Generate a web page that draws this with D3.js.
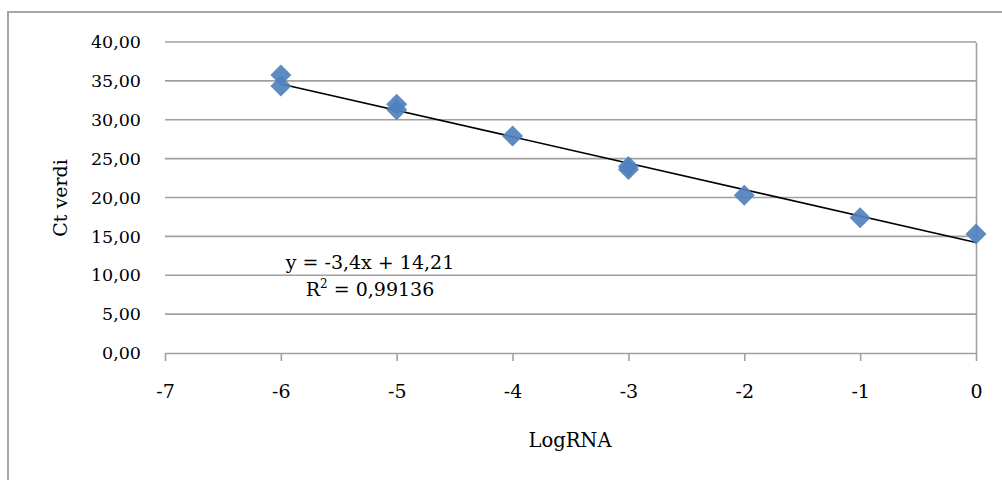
<!DOCTYPE html>
<html>
<head>
<meta charset="utf-8">
<script src="https://cdn.jsdelivr.net/npm/d3@7"></script>
<style>
  body { margin: 0; background: #fff; }
  text { font-family: "DejaVu Serif", serif; fill: #000; }
</style>
</head>
<body>
<svg id="chart" width="1002" height="480"></svg>
<script>
// data
var logRNA = [-6, -6, -5, -5, -4, -3, -3, -2, -1, 0];
var ctValues = [35.75, 34.35, 32.0, 31.3, 27.9, 24.0, 23.6, 20.3, 17.4, 15.3];
var xTicks = [-7, -6, -5, -4, -3, -2, -1, 0];
var yTicks = [0, 5, 10, 15, 20, 25, 30, 35, 40];
var slope = -3.4, intercept = 14.21;
var eqLabel = "y = -3,4x + 14,21";
var r2Label = "0,99136";

var svg = d3.select("#chart");

// outer chart border (runs off the right/bottom of the picture)
svg.append("rect")
  .attr("x", 8).attr("y", 12)
  .attr("width", 1100).attr("height", 600)
  .attr("fill", "none")
  .attr("stroke", "#a6a6a6")
  .attr("stroke-width", 2);

var x = d3.scaleLinear().domain([-7, 0]).range([165, 976]);
var y = d3.scaleLinear().domain([0, 40]).range([353, 42]);

// horizontal gridlines
svg.append("g").selectAll("line")
  .data(yTicks.filter(function(d) { return d > 0; }))
  .enter().append("line")
  .attr("x1", x(-7)).attr("x2", x(0))
  .attr("y1", function(d) { return y(d); })
  .attr("y2", function(d) { return y(d); })
  .attr("stroke", "#a0a0a0")
  .attr("stroke-width", 1.6);

// x axis
var xAxis = svg.append("g")
  .attr("transform", "translate(0," + y(0) + ")")
  .call(d3.axisBottom(x).tickValues(xTicks).tickSize(8).tickSizeOuter(0).tickPadding(24)
    .tickFormat(function(d) { return d3.format("d")(d).replace("−", "-"); }));
xAxis.select(".domain").attr("stroke", "#a0a0a0").attr("stroke-width", 1.6);
xAxis.selectAll(".tick line").attr("stroke", "#a0a0a0").attr("stroke-width", 1.6);
xAxis.selectAll("text").style("font-size", "19px").attr("fill", "#000");

// y axis crosses at x = 0
var yAxis = svg.append("g")
  .attr("transform", "translate(" + x(0) + ",0)")
  .call(d3.axisRight(y).tickValues(yTicks).tickSize(0).tickSizeOuter(0).tickFormat(""));
yAxis.select(".domain").attr("stroke", "#a0a0a0").attr("stroke-width", 1.6);

// y labels on the left
svg.append("g").selectAll("text")
  .data(yTicks)
  .enter().append("text")
  .attr("x", 141)
  .attr("y", function(d) { return y(d); })
  .attr("dy", "0.35em")
  .attr("text-anchor", "end")
  .style("font-size", "17.5px")
  .text(function(d) { return d3.format(".2f")(d).replace(".", ","); });

// trendline
svg.append("line")
  .attr("x1", x(-6)).attr("y1", y(slope * -6 + intercept))
  .attr("x2", x(0)).attr("y2", y(intercept))
  .attr("stroke", "#000")
  .attr("stroke-width", 1.6);

// points
var diamond = d3.symbol().type(d3.symbolSquare).size(220);
svg.append("g").selectAll("path")
  .data(logRNA)
  .enter().append("path")
  .attr("d", diamond)
  .attr("transform", function(d, i) {
    return "translate(" + x(d) + "," + y(ctValues[i]) + ") rotate(45)";
  })
  .attr("fill", "#4f81bd")
  .attr("fill-opacity", 0.92);

// equation labels
svg.append("text")
  .attr("x", 370).attr("y", 269)
  .attr("text-anchor", "middle")
  .style("font-size", "19px")
  .text(eqLabel);

var r2 = svg.append("text")
  .attr("x", 370).attr("y", 296)
  .attr("text-anchor", "middle")
  .style("font-size", "19px");
r2.append("tspan").text("R");
r2.append("tspan").attr("dy", -8).style("font-size", "12px").text("2");
r2.append("tspan").attr("dy", 8).text(" = " + r2Label);

// axis titles
svg.append("text")
  .attr("transform", "translate(67,198) rotate(-90)")
  .attr("text-anchor", "middle")
  .style("font-size", "19px")
  .text("Ct verdi");

svg.append("text")
  .attr("x", 570).attr("y", 447)
  .attr("text-anchor", "middle")
  .style("font-size", "19.5px")
  .text("LogRNA");
</script>
</body>
</html>
